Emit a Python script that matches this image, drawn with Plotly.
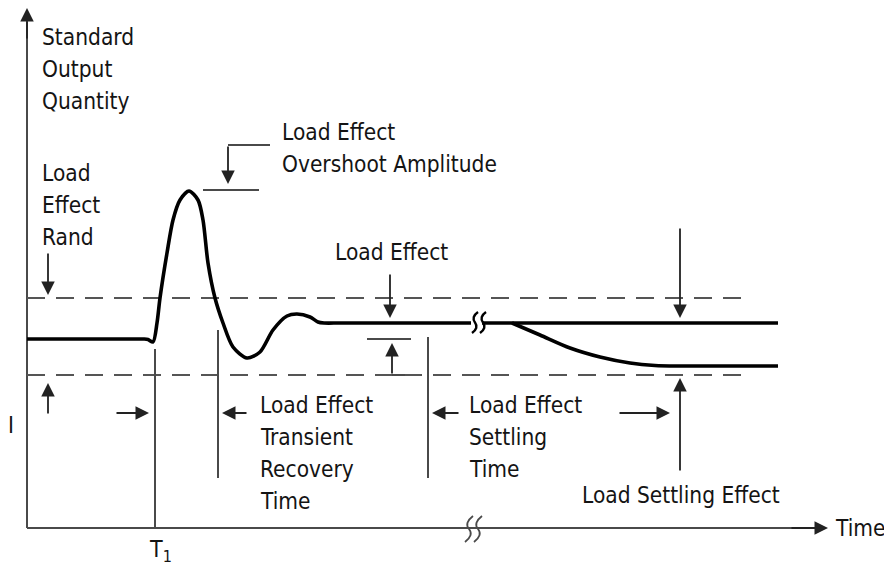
import plotly.graph_objects as go

# ---- data (diagram coordinates: x = time units, y = output units, drawn on pixel-like scales) ----
wave_x = [27, 80, 130, 144, 148, 153, 157, 160, 167, 173, 180, 189, 198, 203, 208, 215, 223, 233, 247,
          260, 273, 287, 297, 310, 318, 324, 340, 400, 450, 471]
wave_y = [339, 339, 339, 339, 339.5, 342, 323, 298, 253, 220, 200, 191, 200, 220, 263, 298, 323, 347, 358,
          352, 330, 316, 314, 317, 322, 323, 323, 323, 323, 323]
after_x = [482, 778]
after_y = [323, 323]
branch_x = [512, 540, 570, 600, 630, 655, 680, 720, 778]
branch_y = [323, 335, 348, 357, 363, 365.5, 366, 366, 366]

band_upper = 298
band_lower = 375
t1 = 155
recovery_t = 218
settling_t = 428
settle_effect_t = 680
axis_y = 528
axis_x = 27

FONT = "DejaVu Sans Condensed, Liberation Sans Narrow, sans-serif"
TXT = "#141414"
GRAY = "#4a4a4a"

fig = go.Figure()

fig.add_trace(go.Scatter(x=wave_x, y=wave_y, mode="lines", line=dict(color="black", width=3.6, shape="spline", smoothing=0.8),
                         hoverinfo="skip"))
fig.add_trace(go.Scatter(x=after_x, y=after_y, mode="lines", line=dict(color="black", width=3.6), hoverinfo="skip"))
fig.add_trace(go.Scatter(x=branch_x, y=branch_y, mode="lines", line=dict(color="black", width=3.6, shape="spline", smoothing=0.8),
                         hoverinfo="skip"))

shapes = []
def line(x0, y0, x1, y1, color=GRAY, width=2, dash="solid"):
    shapes.append(dict(type="line", xref="x", yref="y", x0=x0, y0=y0, x1=x1, y1=y1,
                       line=dict(color=color, width=width, dash=dash), layer="below"))

# axes
line(axis_x, axis_y, 815, axis_y)
line(axis_x, axis_y, axis_x, 22)
# dashed band
line(axis_x, band_upper, 745, band_upper, color="#555", width=2, dash="18px,11px")
line(axis_x, band_lower, 745, band_lower, color="#555", width=2, dash="18px,11px")
# vertical markers
line(t1, 349, t1, axis_y)
line(recovery_t, 330, recovery_t, 478)
line(settling_t, 337, settling_t, 478)
# overshoot marker
line(203, 190, 259, 190)
line(270, 145, 228, 145)
# load effect marker
line(367, 339, 411, 339)
line(392, band_lower, 405, band_lower)

# break squiggles on waveform
for bx in (475, 483):
    shapes.append(dict(type="path", xref="x", yref="y",
                       path=f"M {bx-3},333 Q {bx+4},328 {bx},322.5 Q {bx-4},317 {bx+3},312",
                       line=dict(color="black", width=2.4)))
# break squiggles on time axis
for bx in (469, 478):
    shapes.append(dict(type="path", xref="x", yref="y",
                       path=f"M {bx-4},542 Q {bx+5},535 {bx},529 Q {bx-5},523 {bx+4},516",
                       line=dict(color=GRAY, width=1.8)))

annotations = []
def arrow(x_tip, y_tip, x_tail, y_tail, width=1.8):
    annotations.append(dict(x=x_tip, y=y_tip, ax=x_tail, ay=y_tail, xref="x", yref="y",
                            axref="x", ayref="y", text="", showarrow=True, arrowhead=2,
                            arrowsize=1.5, arrowwidth=width, arrowcolor="#222", standoff=0))

arrow(axis_x, 8, axis_x, 40)
arrow(828, axis_y, 790, axis_y)
arrow(48, 295, 48, 252)
arrow(48, 383, 48, 415)
arrow(149, 413, 115, 413)
arrow(222, 413, 248, 413)
arrow(228, 184, 228, 145)
arrow(390, 318, 390, 273)
arrow(392, 343, 392, 375)
arrow(432, 413, 460, 413)
arrow(670, 413, 618, 413)
arrow(680, 318, 680, 227)
arrow(680, 378, 680, 472)

def text(t, x, y, size=22.5, anchor="left"):
    annotations.append(dict(x=x, y=y, xref="x", yref="y", text=t, showarrow=False,
                            xanchor=anchor, yanchor="middle",
                            font=dict(family=FONT, size=size, color=TXT)))

for i, t in enumerate(["Standard", "Output", "Quantity"]):
    text(t, 40, 37 + 32 * i)
for i, t in enumerate(["Load", "Effect", "Rand"]):
    text(t, 40, 173 + 32 * i)
for i, t in enumerate(["Load Effect", "Overshoot Amplitude"]):
    text(t, 280, 132 + 32 * i)
text("Load Effect", 333, 252)
for i, t in enumerate(["Load Effect", "Transient", "Recovery", "Time"]):
    text(t, 258, 405 + 32 * i)
for i, t in enumerate(["Load Effect", "Settling", "Time"]):
    text(t, 467, 405 + 32 * i)
text("Load Settling Effect", 580, 495)
text("Time", 833, 528)
text("I", 6, 425)
text("T<sub>1</sub>", 147, 551, size=23)

fig.update_layout(
    width=884, height=569,
    margin=dict(l=0, r=0, t=0, b=0),
    paper_bgcolor="white", plot_bgcolor="white",
    showlegend=False,
    xaxis=dict(range=[0, 884], visible=False, fixedrange=True),
    yaxis=dict(range=[569, 0], visible=False, fixedrange=True),
    shapes=shapes, annotations=annotations,
)

fig.write_html("out.html", config={"displayModeBar": False},
               post_script="document.body.style.margin='0';document.body.style.overflow='hidden';")
